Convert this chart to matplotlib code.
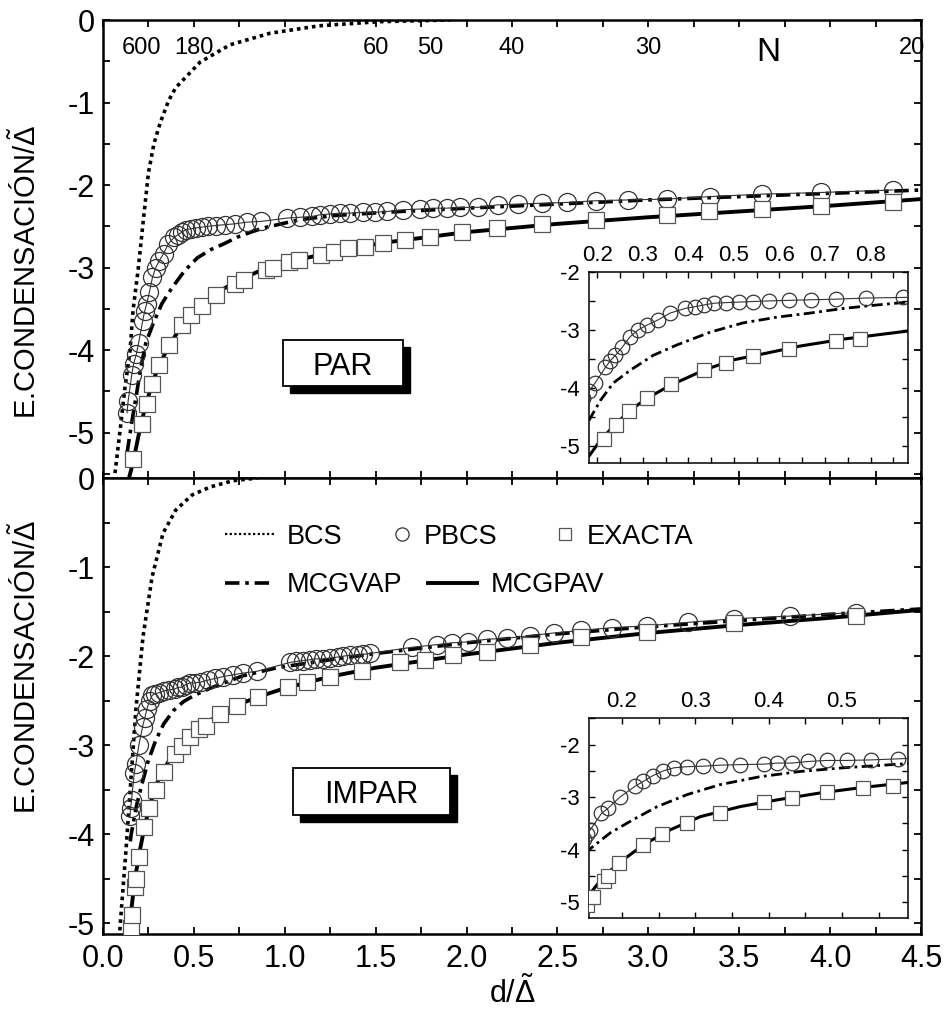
import matplotlib
matplotlib.use('Agg')
import matplotlib.pyplot as plt
from matplotlib.lines import Line2D
from matplotlib.patches import Rectangle
from matplotlib.ticker import MultipleLocator, FormatStrFormatter

plt.rcParams['font.family'] = ['Liberation Sans', 'DejaVu Sans']
plt.rcParams['mathtext.fontset'] = 'custom'
plt.rcParams['mathtext.rm'] = 'Liberation Sans'
plt.rcParams['mathtext.it'] = 'Liberation Sans:italic'
plt.rcParams['axes.unicode_minus'] = False

# ---- PAR (even N) ----
bcs_par_d = [0.066, 0.094, 0.121, 0.149, 0.165, 0.193, 0.22, 0.25, 0.28, 0.314, 0.36, 0.40, 0.534, 0.699, 0.919, 1.19, 1.52, 1.91]
bcs_par_e = [-5.49, -4.97, -4.45, -4.0, -3.52, -3.03, -2.46, -1.85, -1.50, -1.25, -0.98, -0.82, -0.51, -0.30, -0.16, -0.07, -0.02, 0.0]

pbcs_par_d = [0.132, 0.138, 0.158, 0.168, 0.183, 0.196, 0.218, 0.229, 0.24, 0.255, 0.272, 0.29, 0.309, 0.333,
              0.36, 0.393, 0.414, 0.434, 0.456, 0.482, 0.511, 0.542, 0.577, 0.621, 0.669, 0.724, 0.79, 0.871,
              1.012, 1.084, 1.15, 1.194, 1.249, 1.304, 1.359, 1.43, 1.496, 1.562, 1.65, 1.744, 1.815, 1.892,
              1.964, 2.063, 2.173, 2.283, 2.415, 2.552, 2.712, 2.888, 3.102, 3.339, 3.625, 3.949, 4.345]
pbcs_par_e = [-4.76, -4.62, -4.30, -4.17, -4.05, -3.91, -3.65, -3.53, -3.44, -3.30, -3.12, -3.00, -2.92, -2.83,
              -2.71, -2.63, -2.60, -2.57, -2.54, -2.53, -2.52, -2.51, -2.50, -2.49, -2.48, -2.47, -2.45, -2.44,
              -2.40, -2.39, -2.38, -2.36, -2.35, -2.34, -2.34, -2.33, -2.33, -2.32, -2.30, -2.29, -2.28, -2.28,
              -2.27, -2.27, -2.24, -2.23, -2.22, -2.21, -2.19, -2.18, -2.17, -2.14, -2.11, -2.09, -2.06]

exacta_par_d = [0.165, 0.215, 0.242, 0.27, 0.31, 0.362, 0.435, 0.483, 0.542, 0.621, 0.724, 0.777, 0.897, 0.935,
                1.023, 1.078, 1.199, 1.271, 1.348, 1.441, 1.54, 1.661, 1.799, 1.975, 2.167, 2.415, 2.712, 3.102,
                3.333, 3.625, 3.949, 4.345]
exacta_par_e = [-5.32, -4.89, -4.65, -4.41, -4.18, -3.94, -3.70, -3.58, -3.46, -3.33, -3.20, -3.15, -3.03, -3.01,
                -2.93, -2.91, -2.85, -2.81, -2.76, -2.75, -2.70, -2.67, -2.63, -2.57, -2.52, -2.47, -2.42, -2.36,
                -2.32, -2.29, -2.25, -2.20]

vap_par_d = [0.132, 0.16, 0.183, 0.207, 0.235, 0.272, 0.323, 0.375, 0.448, 0.52, 0.595, 0.667, 0.74, 0.814, 0.882,
             1.08, 1.27, 1.55, 2.0, 2.5, 3.0, 3.5, 4.0, 4.5]
vap_par_e = [-5.25, -4.85, -4.55, -4.22, -3.92, -3.70, -3.44, -3.26, -3.04, -2.88, -2.78, -2.71, -2.63, -2.57, -2.52,
             -2.42, -2.37, -2.33, -2.28, -2.23, -2.18, -2.14, -2.10, -2.06]

pav_par_d = [0.143, 0.165, 0.183, 0.207, 0.235, 0.272, 0.31, 0.36, 0.433, 0.498, 0.573, 0.645, 0.74, 0.882, 1.02,
             1.27, 1.54, 2.0, 2.5, 3.0, 3.5, 4.0, 4.5]
pav_par_e = [-5.55, -5.36, -5.17, -4.91, -4.67, -4.39, -4.18, -3.96, -3.70, -3.52, -3.40, -3.28, -3.16, -3.02, -2.93,
             -2.81, -2.70, -2.57, -2.47, -2.39, -2.32, -2.25, -2.17]

# ---- IMPAR (odd N) ----
bcs_impar_d = [0.088, 0.094, 0.127, 0.154, 0.182, 0.22, 0.27, 0.33, 0.40, 0.49, 0.59, 0.715, 0.85]
bcs_impar_e = [-5.25, -5.03, -4.16, -3.37, -2.57, -1.78, -1.11, -0.62, -0.36, -0.19, -0.10, -0.03, 0.0]

pbcs_impar_d = [0.148, 0.152, 0.157, 0.172, 0.181, 0.197, 0.218, 0.229, 0.242, 0.256, 0.271, 0.288, 0.310, 0.334,
                0.361, 0.394, 0.412, 0.432, 0.454, 0.479, 0.507, 0.540, 0.576, 0.616, 0.66, 0.715, 0.77, 0.847,
                1.03, 1.06, 1.10, 1.14, 1.17, 1.21, 1.25, 1.29, 1.32, 1.36, 1.40, 1.43, 1.47, 1.70, 1.84, 1.92,
                2.01, 2.11, 2.22, 2.35, 2.48, 2.63, 2.80, 2.99, 3.22, 3.47, 3.78, 4.14]
pbcs_impar_e = [-3.80, -3.70, -3.62, -3.31, -3.21, -3.00, -2.79, -2.70, -2.59, -2.50, -2.44, -2.42, -2.41, -2.39,
                -2.38, -2.37, -2.35, -2.35, -2.32, -2.30, -2.30, -2.29, -2.27, -2.25, -2.23, -2.21, -2.19, -2.17,
                -2.07, -2.06, -2.05, -2.04, -2.03, -2.03, -2.02, -2.01, -2.00, -1.99, -1.99, -1.98, -1.97, -1.90,
                -1.87, -1.85, -1.84, -1.81, -1.80, -1.77, -1.74, -1.71, -1.68, -1.66, -1.62, -1.58, -1.55, -1.51]

exacta_impar_d = [0.152, 0.16, 0.175, 0.181, 0.196, 0.228, 0.255, 0.289, 0.334, 0.394, 0.432, 0.48, 0.528, 0.569,
                  0.644, 0.737, 0.853, 1.018, 1.122, 1.249, 1.425, 1.634, 1.771, 1.925, 2.112, 2.35, 2.63, 2.99,
                  3.47, 4.14]
exacta_impar_e = [-5.05, -4.91, -4.59, -4.50, -4.25, -3.92, -3.71, -3.50, -3.30, -3.10, -3.01, -2.91, -2.82, -2.78,
                  -2.65, -2.56, -2.46, -2.35, -2.29, -2.23, -2.17, -2.07, -2.04, -1.99, -1.95, -1.87, -1.79, -1.73,
                  -1.63, -1.55]

vap_impar_d = [0.15, 0.155, 0.184, 0.215, 0.248, 0.289, 0.334, 0.388, 0.443, 0.502, 0.59, 0.77, 0.957, 1.25, 1.5,
               2.0, 2.5, 3.0, 3.5, 4.0, 4.5]
vap_impar_e = [-4.08, -4.0, -3.68, -3.43, -3.18, -2.95, -2.76, -2.61, -2.51, -2.44, -2.36, -2.22, -2.13, -2.04, -1.97,
               -1.85, -1.75, -1.67, -1.60, -1.53, -1.47]

pav_impar_d = [0.145, 0.155, 0.175, 0.198, 0.23, 0.266, 0.307, 0.361, 0.412, 0.47, 0.525, 0.59, 0.737, 0.85, 1.0,
               1.25, 1.5, 2.0, 2.5, 3.0, 3.5, 4.0, 4.5]
pav_impar_e = [-5.15, -4.86, -4.51, -4.23, -3.90, -3.62, -3.37, -3.18, -3.05, -2.92, -2.82, -2.72, -2.55, -2.46,
               -2.36, -2.23, -2.13, -1.98, -1.85, -1.74, -1.65, -1.57, -1.48]

# top scale: number of levels N
n_labels = ['600', '180', '60', '50', '40', '30', '20']
n_pos = [0.21, 0.5, 1.5, 1.8, 2.25, 3.0, 4.45]

ylab = r'E.CONDENSACIÓN/$\tilde{\Delta}$'
dotted = (0, (1.0, 1.1))
dashdot = (0, (4.0, 1.6, 1.0, 1.6))


def draw(ax, bcs, pbcs, exacta, vap, pav, big=True):
    lw = 2.6 if big else 2.0
    if bcs is not None:
        ax.plot(bcs[0], bcs[1], color='black', lw=lw, ls=dotted, zorder=2)
    ax.plot(vap[0], vap[1], color='black', lw=lw, ls=dashdot, zorder=2)
    ax.plot(pav[0], pav[1], color='black', lw=lw + 0.2, zorder=2)
    ax.plot(pbcs[0], pbcs[1], color='#333333', lw=0.8, marker='o', ms=13 if big else 10.5,
            mfc='none', mec='#333333', mew=0.9, zorder=3)
    ax.plot(exacta[0], exacta[1], ls='none', marker='s', ms=11 if big else 9.5,
            mfc='white', mec='#555555', mew=0.9, zorder=4)


def main_style(ax, ymin, bottom_labels):
    ax.set_xlim(0, 4.5)
    ax.set_ylim(ymin, 0)
    ax.xaxis.set_major_locator(MultipleLocator(0.5))
    ax.xaxis.set_minor_locator(MultipleLocator(0.25))
    ax.yaxis.set_major_locator(MultipleLocator(1))
    ax.yaxis.set_minor_locator(MultipleLocator(0.5))
    ax.xaxis.set_major_formatter(FormatStrFormatter('%.1f'))
    ax.yaxis.set_major_formatter(FormatStrFormatter('%d'))
    ax.tick_params(which='both', direction='in', top=True, right=True, length=5, width=1.3,
                   labelsize=22, labelbottom=bottom_labels)
    ax.tick_params(axis='x', pad=7)
    ax.tick_params(axis='y', pad=6)
    for s in ax.spines.values():
        s.set_linewidth(1.8)


def inset_style(ax, xlim, ylim):
    ax.set_xlim(*xlim)
    ax.set_ylim(*ylim)
    ax.xaxis.set_major_locator(MultipleLocator(0.1))
    ax.xaxis.set_minor_locator(MultipleLocator(0.05))
    ax.yaxis.set_major_locator(MultipleLocator(1))
    ax.yaxis.set_minor_locator(MultipleLocator(0.5))
    ax.xaxis.set_major_formatter(FormatStrFormatter('%.1f'))
    ax.yaxis.set_major_formatter(FormatStrFormatter('%d'))
    ax.tick_params(which='both', direction='in', top=True, right=True, length=4, width=1.0,
                   labelsize=16, labeltop=True, labelbottom=False)
    ax.tick_params(axis='x', pad=4)
    ax.tick_params(axis='y', pad=7)
    for s in ax.spines.values():
        s.set_linewidth(1.1)


def tag(ax, text, x0, y0, w, h):
    dx, dy = 7 / 818, 7 / 458
    ax.add_patch(Rectangle((x0 + dx, y0 - dy), w, h, transform=ax.transAxes,
                           fc='black', ec='black', lw=1, zorder=6))
    ax.add_patch(Rectangle((x0, y0), w, h, transform=ax.transAxes,
                           fc='white', ec='black', lw=1.3, zorder=7))
    ax.text(x0 + w / 2, y0 + h / 2, text, transform=ax.transAxes, ha='center',
            va='center_baseline', fontsize=22, zorder=8)


fig = plt.figure(figsize=(9.46, 10.16), dpi=100)
ax1 = fig.add_axes([0.1089, 0.5295, 0.8647, 0.4508])
ax2 = fig.add_axes([0.1089, 0.0807, 0.8647, 0.4488])

draw(ax1, (bcs_par_d, bcs_par_e), (pbcs_par_d, pbcs_par_e), (exacta_par_d, exacta_par_e),
     (vap_par_d, vap_par_e), (pav_par_d, pav_par_e))
main_style(ax1, -5.55, False)
ax1.set_ylabel(ylab, fontsize=21)
ax1.yaxis.set_label_coords(-0.075, 0.45)
for lab, p in zip(n_labels, n_pos):
    ax1.text(p, 0.939, lab, transform=ax1.get_xaxis_transform(), ha='center', va='center', fontsize=17)
ax1.text(3.66, 0.928, 'N', transform=ax1.get_xaxis_transform(), ha='center', va='center', fontsize=24)
tag(ax1, 'PAR', 0.220, 0.201, 0.147, 0.100)

draw(ax2, (bcs_impar_d, bcs_impar_e), (pbcs_impar_d, pbcs_impar_e), (exacta_impar_d, exacta_impar_e),
     (vap_impar_d, vap_impar_e), (pav_impar_d, pav_impar_e))
main_style(ax2, -5.12, True)
ax2.set_ylabel(ylab, fontsize=21)
ax2.yaxis.set_label_coords(-0.075, 0.586)
ax2.set_xlabel(r'd/$\tilde{\Delta}$', fontsize=22, labelpad=2)
tag(ax2, 'IMPAR', 0.232, 0.262, 0.192, 0.101)

h_bcs = Line2D([], [], color='black', lw=1.6, ls=dotted)
h_pbcs = Line2D([], [], ls='none', marker='o', ms=9.5, mfc='none', mec='#333333', mew=0.9)
h_ex = Line2D([], [], ls='none', marker='s', ms=8, mfc='white', mec='#555555', mew=0.9)
h_vap = Line2D([], [], color='black', lw=2.6, ls=dashdot)
h_pav = Line2D([], [], color='black', lw=2.8)
leg_kw = dict(loc='center left', frameon=False, fontsize=19.5, borderpad=0, borderaxespad=0)
leg_a = ax2.legend([h_bcs], ['BCS'], bbox_to_anchor=(0.149, 0.871), handlelength=1.8,
                   handletextpad=0.5, **leg_kw)
ax2.add_artist(leg_a)
leg_b = ax2.legend([h_pbcs, h_ex], ['PBCS', 'EXACTA'], ncol=2, bbox_to_anchor=(0.352, 0.871),
                   handlelength=0.8, handletextpad=0.4, columnspacing=2.1, **leg_kw)
ax2.add_artist(leg_b)
ax2.legend([h_vap, h_pav], ['MCGVAP', 'MCGPAV'], ncol=2, bbox_to_anchor=(0.149, 0.765),
           handlelength=1.8, handletextpad=0.5, columnspacing=0.95, **leg_kw)

ins1 = fig.add_axes([0.6226, 0.5443, 0.3372, 0.188])
draw(ins1, None, (pbcs_par_d, pbcs_par_e), (exacta_par_d, exacta_par_e),
     (vap_par_d, vap_par_e), (pav_par_d, pav_par_e), big=False)
inset_style(ins1, (0.182, 0.882), (-5.3, -2.0))

ins2 = fig.add_axes([0.6226, 0.0965, 0.3372, 0.1969])
draw(ins2, None, (pbcs_impar_d, pbcs_impar_e), (exacta_impar_d, exacta_impar_e),
     (vap_impar_d, vap_impar_e), (pav_impar_d, pav_impar_e), big=False)
inset_style(ins2, (0.155, 0.59), (-5.3, -1.49))

fig.savefig('out.png', dpi=100)
